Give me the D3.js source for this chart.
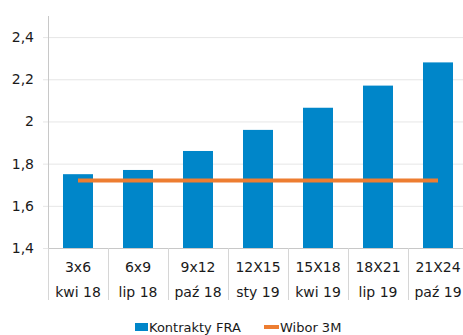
<!DOCTYPE html>
<html>
<head>
<meta charset="utf-8">
<script src="https://cdn.jsdelivr.net/npm/d3@7"></script>
<style>
  html, body { margin: 0; padding: 0; background: #fff; }
  svg { display: block; font-family: "DejaVu Sans", Verdana, sans-serif; }
</style>
</head>
<body>
<svg id="chart" width="463" height="335"></svg>
<script>
// FRA contract tenors and their settlement months
const tenors = ["3x6", "6x9", "9x12", "12X15", "15X18", "18X21", "21X24"];
const months = ["kwi 18", "lip 18", "paź 18", "sty 19", "kwi 19", "lip 19", "paź 19"];
const fraRates = [1.75, 1.77, 1.86, 1.96, 2.065, 2.17, 2.28];
const wibor3m = [1.72, 1.72, 1.72, 1.72, 1.72, 1.72, 1.72];
const yTicks = [1.4, 1.6, 1.8, 2.0, 2.2, 2.4];

const svg = d3.select("#chart");
const plotLeft = 48, bandW = 60, plotTop = 16, plotBottom = 248;

const x = d3.scaleBand()
  .domain(tenors)
  .range([plotLeft, plotLeft + bandW * tenors.length])
  .paddingInner(0.5).paddingOuter(0.25);

const y = d3.scaleLinear().domain([1.4, 2.5]).range([plotBottom, plotTop]);
const fmt = v => String(+v.toFixed(1)).replace(".", ",");

// horizontal gridlines with outward ticks
svg.append("g").selectAll("line").data(yTicks).join("line")
  .attr("x1", plotLeft - 5).attr("x2", 463)
  .attr("y1", d => y(d) + 0.5).attr("y2", d => y(d) + 0.5)
  .attr("stroke", "#e6e6e6").attr("stroke-width", 1);

svg.append("g").selectAll("text").data(yTicks).join("text")
  .attr("x", 34).attr("y", d => y(d)).attr("dy", "0.35em")
  .attr("text-anchor", "end").attr("font-size", 14).attr("fill", "#1a1a1a")
  .text(fmt);

// bars
svg.append("g").selectAll("rect").data(fraRates).join("rect")
  .attr("x", (d, i) => x(tenors[i]))
  .attr("width", x.bandwidth())
  .attr("y", d => y(d))
  .attr("height", d => plotBottom - y(d))
  .attr("fill", "#0086c9");

// Wibor 3M line across band centres
const line = d3.line()
  .x((d, i) => x(tenors[i]) + x.bandwidth() / 2)
  .y(d => y(d));
svg.append("path").datum(wibor3m)
  .attr("d", line).attr("fill", "none")
  .attr("stroke", "#ed7d31").attr("stroke-width", 4);

// axis lines
svg.append("line").attr("x1", plotLeft + 0.5).attr("x2", plotLeft + 0.5)
  .attr("y1", plotTop).attr("y2", plotBottom).attr("stroke", "#c8c8c8");
svg.append("line").attr("x1", plotLeft).attr("x2", 463)
  .attr("y1", plotBottom + 0.5).attr("y2", plotBottom + 0.5).attr("stroke", "#c8c8c8");

// category separators
const seps = d3.range(tenors.length + 1).map(i => plotLeft + i * bandW);
svg.append("g").selectAll("line").data(seps).join("line")
  .attr("x1", d => d + 0.5).attr("x2", d => d + 0.5)
  .attr("y1", plotBottom).attr("y2", 300).attr("stroke", "#d6d6d6");

// two-level category labels
const cx = i => plotLeft + bandW * i + bandW / 2;
svg.append("g").selectAll("text").data(tenors).join("text")
  .attr("x", (d, i) => cx(i)).attr("y", 272)
  .attr("text-anchor", "middle").attr("font-size", 14).attr("fill", "#1a1a1a")
  .text(d => d);
svg.append("g").selectAll("text").data(months).join("text")
  .attr("x", (d, i) => cx(i)).attr("y", 297)
  .attr("text-anchor", "middle").attr("font-size", 14).attr("fill", "#1a1a1a")
  .text(d => d);

// legend
const lg = svg.append("g").attr("font-size", 13).attr("fill", "#1a1a1a");
lg.append("rect").attr("x", 135).attr("y", 323).attr("width", 13).attr("height", 8).attr("fill", "#0086c9");
lg.append("text").attr("x", 149).attr("y", 332).text("Kontrakty FRA");
lg.append("line").attr("x1", 264).attr("x2", 279).attr("y1", 327).attr("y2", 327)
  .attr("stroke", "#ed7d31").attr("stroke-width", 4);
lg.append("text").attr("x", 280).attr("y", 332).text("Wibor 3M");
</script>
</body>
</html>
